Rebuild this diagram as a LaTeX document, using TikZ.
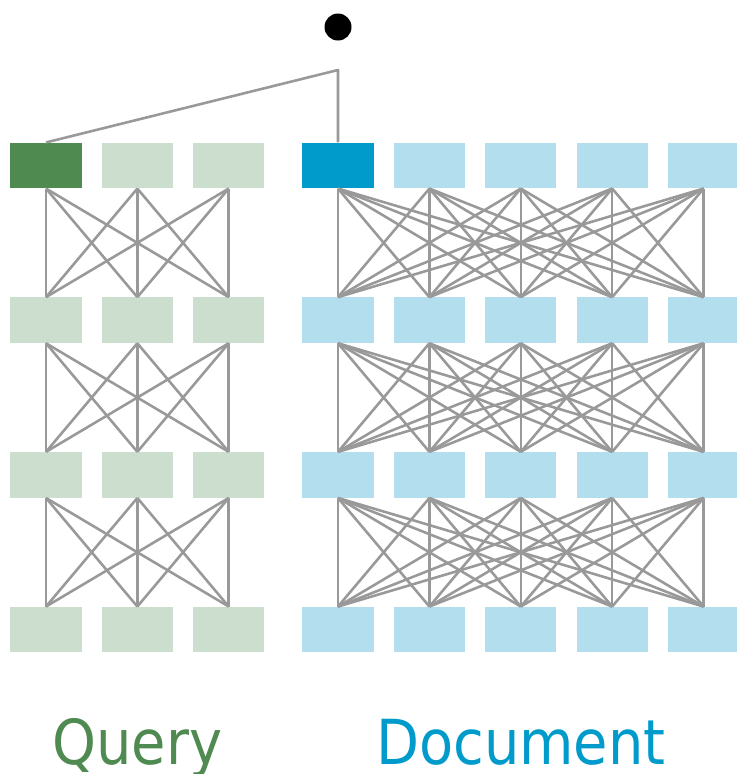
\documentclass[tikz,border=0pt]{standalone}
\usepackage{fontspec}
\newfontfamily\towerfont[FakeStretch=0.9]{DejaVu Sans}
\definecolor{qdark}{HTML}{4F8A50}
\definecolor{qlight}{HTML}{CCDFCF}
\definecolor{ddark}{HTML}{009BCB}
\definecolor{dlight}{HTML}{B3DEEE}
\definecolor{wire}{HTML}{999999}
\begin{document}
\begin{tikzpicture}[x=0.03cm,y=-0.03cm,
  token/.style={rectangle, inner sep=0pt, minimum width=2.14cm, minimum height=1.37cm},
  link/.style={draw=wire, line width=2.2pt},
  towername/.style={font=\towerfont\fontsize{53}{60}\selectfont, anchor=base, inner sep=0pt}]
\useasboundingbox (0,0) rectangle (737,774);

% Query tower: 3 tokens per layer
\foreach \r in {1,...,4}
  \foreach \c in {1,...,3}
    \node[token, fill=qlight] (q-\r-\c) at ({46+91.35*(\c-1)},{165.5+154.7*(\r-1)}) {};
\node[token, fill=qdark] at (q-1-1) {};

% Document tower: 5 tokens per layer
\foreach \r in {1,...,4}
  \foreach \c in {1,...,5}
    \node[token, fill=dlight] (d-\r-\c) at ({338+91.4*(\c-1)},{165.5+154.7*(\r-1)}) {};
\node[token, fill=ddark] at (d-1-1) {};

% full attention between layers
\foreach \r [evaluate=\r as \s using int(\r+1)] in {1,...,3} {
  \foreach \i in {1,...,3}
    \foreach \j in {1,...,3}
      \draw[link] (q-\r-\i.south) -- (q-\s-\j.north);
  \foreach \i in {1,...,5}
    \foreach \j in {1,...,5}
      \draw[link] (d-\r-\i.south) -- (d-\s-\j.north);
}

% score on the two first tokens
\coordinate (join) at (338,70);
\draw[link, line join=round] (q-1-1.north) -- (join) -- (d-1-1.north);
\node[circle, fill=black, inner sep=0pt, minimum size=0.81cm] (score) at (338,27) {};

% tower names
\node[towername, text=qdark] (qname) at (q-4-2 |- 0,764) {Query};
\node[towername, text=ddark] (dname) at (d-4-3 |- 0,764) {Document};
\end{tikzpicture}
\end{document}
